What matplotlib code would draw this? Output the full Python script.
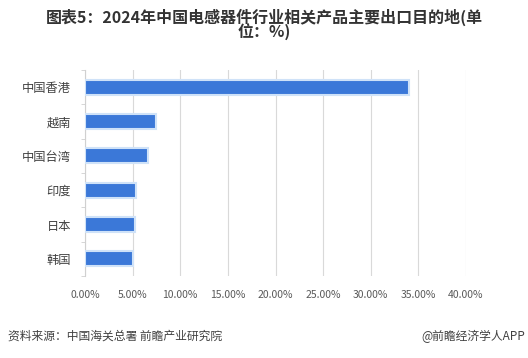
import matplotlib.pyplot as plt
import numpy as np

plt.rcParams['font.family'] = ['Noto Sans CJK SC', 'DejaVu Sans']

categories = ['中国香港', '越南', '中国台湾', '印度', '日本', '韩国']
values = [34.0, 7.45, 6.6, 5.35, 5.25, 5.05]
xticks = [0, 5, 10, 15, 20, 25, 30, 35, 40]

fig = plt.figure(figsize=(5.28, 3.58), dpi=100)
ax = fig.add_axes([0.161, 0.229, 0.7216, 0.5754])

y = np.arange(len(categories))
ax.barh(y, values, height=0.44, color='#3b78d8', edgecolor='#cfe2f8', linewidth=1.5, zorder=3)
ax.set_yticks(y)
ax.set_yticklabels(categories, fontsize=8.8, color='#404040')
ax.set_ylim(len(categories) - 0.5, -0.5)
ax.set_yticks(np.arange(-0.5, len(categories)), minor=True)
ax.tick_params(axis='y', which='major', length=0, pad=10)
ax.tick_params(axis='y', which='minor', length=3, color='#d0d0d0')

ax.set_xlim(0, 40)
ax.set_xticks(xticks)
ax.set_xticklabels([f'{v:.2f}%' for v in xticks], fontsize=7.5, color='#595959')
ax.tick_params(axis='x', length=0, pad=10)
ax.grid(axis='x', color='#d9d9d9', linewidth=0.8, zorder=0)

for s in ['top', 'right', 'bottom']:
    ax.spines[s].set_visible(False)
ax.spines['left'].set_color('#d0d0d0')

fig.text(0.5, 0.975, '图表5：2024年中国电感器件行业相关产品主要出口目的地(单\n位：%)',
         ha='center', va='top', fontsize=11.5, fontweight='bold', color='#333333',
         linespacing=0.8)
fig.text(0.015, 0.06, '资料来源：中国海关总署 前瞻产业研究院', ha='left', va='center',
         fontsize=8.5, color='#404040')
fig.text(0.995, 0.06, '@前瞻经济学人APP', ha='right', va='center',
         fontsize=8.5, color='#404040')

fig.savefig('out.png', dpi=100)
